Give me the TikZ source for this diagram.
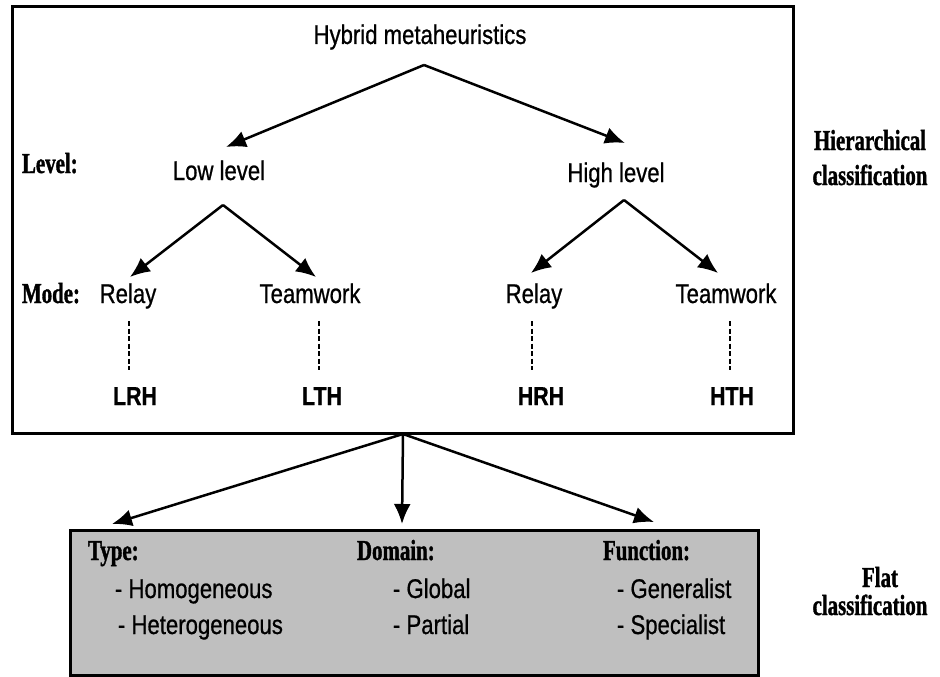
\documentclass[tikz,border=0pt]{standalone}
\usepackage{fontspec}
\usetikzlibrary{arrows.meta}
\newfontfamily\labsans{Liberation Sans}[FakeStretch=0.82, FakeBold=0.7]
\newfontfamily\labserif{Liberation Serif}[FakeStretch=0.72, FakeBold=1.2]

\begin{document}
\begin{tikzpicture}[x=1pt,y=-1pt,
  every node/.style={inner sep=0pt, outer sep=0pt},
  item/.style={font=\labsans\fontsize{27}{30}\selectfont, anchor=base},
  leaf/.style={item, anchor=base west},
  code/.style={font=\labsans\bfseries\fontsize{26}{30}\selectfont, anchor=base},
  tag/.style={font=\labserif\bfseries\fontsize{29}{32}\selectfont, anchor=base west},
  side/.style={font=\labserif\bfseries\fontsize{29}{32}\selectfont, anchor=base},
  arr/.style={line width=2.5pt, -{Latex[length=20pt,width=17pt]}},
  link/.style={line width=1.5pt, dash pattern=on 5pt off 2.5pt},
  frame/.style={draw, line width=3pt}]

\useasboundingbox (0,0) rectangle (940,677);

% frames
\draw[frame] (12,7) rectangle (793,433);
\draw[frame, fill=black!25] (70,530) rectangle (758,675);

% hierarchical tree
\node[item] (hyb)  at (420,44)  {Hybrid metaheuristics};
\node[item] (low)  at (219,180) {Low level};
\node[item] (high) at (616,182) {High level};
\node[tag]  (lvl)  at (22,173)  {Level:};
\node[tag]  (mode) at (22,303)  {Mode:};
\node[item] (lr)   at (128,303) {Relay};
\node[item] (lt)   at (310,303) {Teamwork};
\node[item] (hr)   at (534,303) {Relay};
\node[item] (ht)   at (726,303) {Teamwork};
\node[code] (lrh)  at (135,405) {LRH};
\node[code] (lth)  at (322,405) {LTH};
\node[code] (hrh)  at (541,405) {HRH};
\node[code] (hth)  at (732,405) {HTH};

% fork points and arrow ends
\coordinate (hybfork)  at (424,65);
\coordinate (lowin)    at (226,147);
\coordinate (highin)   at (625,143);
\coordinate (lowfork)  at (223,205);
\coordinate (lrin)     at (130,277);
\coordinate (ltin)     at (316,277);
\coordinate (highfork) at (624,200);
\coordinate (hrin)     at (531,273);
\coordinate (htin)     at (718,273);

\draw[arr] (hybfork) -- (lowin);
\draw[arr] (hybfork) -- (highin);
\draw[arr] (lowfork) -- (lrin);
\draw[arr] (lowfork) -- (ltin);
\draw[arr] (highfork) -- (hrin);
\draw[arr] (highfork) -- (htin);

% dashed links to the class codes
\draw[link] (129,321) -- (129,370);
\draw[link] (319,321) -- (319,370);
\draw[link] (532,321) -- (532,370);
\draw[link] (730,321) -- (730,370);

% flat classification
\coordinate (flatfork) at (403,434);
\coordinate (typein)   at (112,524);
\coordinate (domin)    at (402,524);
\coordinate (funcin)   at (654,522);
\draw[arr] (flatfork) -- (typein);
\draw[arr] (flatfork) -- (domin);
\draw[arr] (flatfork) -- (funcin);

\node[tag]  (type) at (88,560)  {Type:};
\node[tag]  (dom)  at (357,560) {Domain:};
\node[tag]  (func) at (603,560) {Function:};
\node[leaf] (homo) at (115,598) {- Homogeneous};
\node[leaf] (hete) at (118,634) {- Heterogeneous};
\node[leaf] (glob) at (393,598) {- Global};
\node[leaf] (part) at (393,634) {- Partial};
\node[leaf] (gene) at (617,598) {- Generalist};
\node[leaf] (spec) at (617,634) {- Specialist};

% side captions
\node[side] (hier1) at (870,150) {Hierarchical};
\node[side] (hier2) at (870,185) {classification};
\node[side] (flat1) at (880,587) {Flat};
\node[side] (flat2) at (870,615) {classification};
\end{tikzpicture}
\end{document}
